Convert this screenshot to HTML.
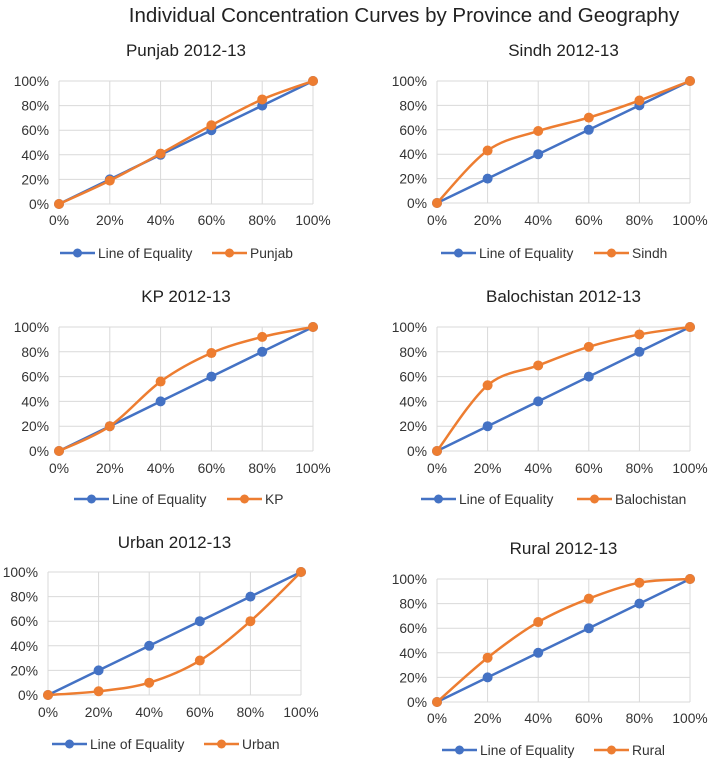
<!DOCTYPE html>
<html><head><meta charset="utf-8">
<style>
html,body{margin:0;padding:0;background:#fff;}
svg{display:block;font-family:"Liberation Sans",Arial,sans-serif;}
</style></head>
<body>
<svg id="chart" width="709" height="759" viewBox="0 0 709 759" xmlns="http://www.w3.org/2000/svg">
<text x="404" y="22" text-anchor="middle" font-size="20.5" fill="#222">Individual Concentration Curves by Province and Geography</text>
</svg>
<script>
const xCategories = [0, 20, 40, 60, 80, 100];
const yTicks = [0, 20, 40, 60, 80, 100];
const equality = [0, 20, 40, 60, 80, 100];
const punjab = [0, 19, 41, 64, 85, 100];
const sindh = [0, 43, 59, 70, 84, 100];
const kp = [0, 20, 56, 79, 92, 100];
const balochistan = [0, 53, 69, 84, 94, 100];
const urban = [0, 3, 10, 28, 60, 100];
const rural = [0, 36, 65, 84, 97, 100];

const panels = [
  {key:'punjab', title:'Punjab 2012-13', name:'Punjab', data:punjab, x0:59, x1:313, yTop:81, yBot:204, titleY:56, xlY:225, legY:253, lb:60, lo:212},
  {key:'sindh', title:'Sindh 2012-13', name:'Sindh', data:sindh, x0:437, x1:690, yTop:81, yBot:203, titleY:56, xlY:225, legY:253, lb:441, lo:594},
  {key:'kp', title:'KP 2012-13', name:'KP', data:kp, x0:59, x1:313, yTop:327, yBot:451, titleY:302, xlY:473, legY:499, lb:74, lo:227},
  {key:'balochistan', title:'Balochistan 2012-13', name:'Balochistan', data:balochistan, x0:437, x1:690, yTop:327, yBot:451, titleY:302, xlY:473, legY:499, lb:421, lo:577},
  {key:'urban', title:'Urban 2012-13', name:'Urban', data:urban, x0:48, x1:301, yTop:572, yBot:695, titleY:548, xlY:717, legY:744, lb:52, lo:204},
  {key:'rural', title:'Rural 2012-13', name:'Rural', data:rural, x0:437, x1:690, yTop:579, yBot:702, titleY:554, xlY:723, legY:750, lb:442, lo:594}
];
const NS='http://www.w3.org/2000/svg';
const svg=document.getElementById('chart');
const BLUE='#4472C4', ORANGE='#ED7D31';
function mk(tag, attrs, parent){const e=document.createElementNS(NS,tag);for(const k in attrs)e.setAttribute(k,attrs[k]);(parent||svg).appendChild(e);return e;}
function smooth(pts){
  let d='M'+pts[0][0]+','+pts[0][1];
  for(let i=0;i<pts.length-1;i++){
    const p0=pts[Math.max(0,i-1)],p1=pts[i],p2=pts[i+1],p3=pts[Math.min(pts.length-1,i+2)];
    const t=1/6;
    const c1=[p1[0]+(p2[0]-p0[0])*t,p1[1]+(p2[1]-p0[1])*t];
    const c2=[p2[0]-(p3[0]-p1[0])*t,p2[1]-(p3[1]-p1[1])*t];
    d+=' C'+c1[0]+','+c1[1]+' '+c2[0]+','+c2[1]+' '+p2[0]+','+p2[1];
  }
  return d;
}
panels.forEach(p=>{
  const g=mk('g',{});
  
  
  const xs=v=>p.x0+(v-xCategories[0])/(xCategories[xCategories.length-1]-xCategories[0])*(p.x1-p.x0);
  const ys=v=>p.yBot-(v/100)*(p.yBot-p.yTop);
  const cx=(p.x0+p.x1)/2;
  const t=mk('text',{x:cx,y:p.titleY,'text-anchor':'middle','font-size':17,fill:'#222'},g);
  t.textContent=p.title;
  
  
  yTicks.forEach(v=>{
    const l=mk('line',{x1:p.x0,x2:p.x1,y1:ys(v),y2:ys(v),stroke:'#d9d9d9','stroke-width':1},g);
    
    
    const tx=mk('text',{x:p.x0-10,y:ys(v)+5,'text-anchor':'end','font-size':13.8,fill:'#333'},g);
    tx.textContent=v+'%';
    
    
  });
  xCategories.forEach(v=>{
    const l=mk('line',{x1:xs(v),x2:xs(v),y1:p.yTop,y2:p.yBot,stroke:'#d9d9d9','stroke-width':1},g);
    
    
    const tx=mk('text',{x:xs(v),y:p.xlY,'text-anchor':'middle','font-size':13.8,fill:'#333'},g);
    tx.textContent=v+'%';
    
    
  });
  const eqPts=equality.map((v,i)=>[xs(xCategories[i]),ys(v)]);
  const eq=mk('polyline',{points:eqPts.map(q=>q.join(',')).join(' '),fill:'none',stroke:BLUE,'stroke-width':2.5},g);
  
  
  eqPts.forEach(q=>{
    const c=mk('circle',{cx:q[0],cy:q[1],r:5,fill:BLUE},g);
    
    
  });
  const sPts=p.data.map((v,i)=>[xs(xCategories[i]),ys(v)]);
  const sl=mk('path',{d:smooth(sPts),fill:'none',stroke:ORANGE,'stroke-width':2.5},g);
  
  
  sPts.forEach(q=>{
    const c=mk('circle',{cx:q[0],cy:q[1],r:5,fill:ORANGE},g);
    
    
  });
  [[p.lb,BLUE,'Line of Equality','legend-equality'],[p.lo,ORANGE,p.name,'legend-'+p.key]].forEach(([lx,col,txt,nm])=>{
    const lg=mk('g',{},g);
    
    
    mk('line',{x1:lx,x2:lx+35,y1:p.legY,y2:p.legY,stroke:col,'stroke-width':2.5},lg);
    mk('circle',{cx:lx+17.5,cy:p.legY,r:4.5,fill:col},lg);
    const tt=mk('text',{x:lx+38,y:p.legY+5,'font-size':13.8,fill:'#333'},lg);
    tt.textContent=txt;
  });
});
</script>
</body></html>
